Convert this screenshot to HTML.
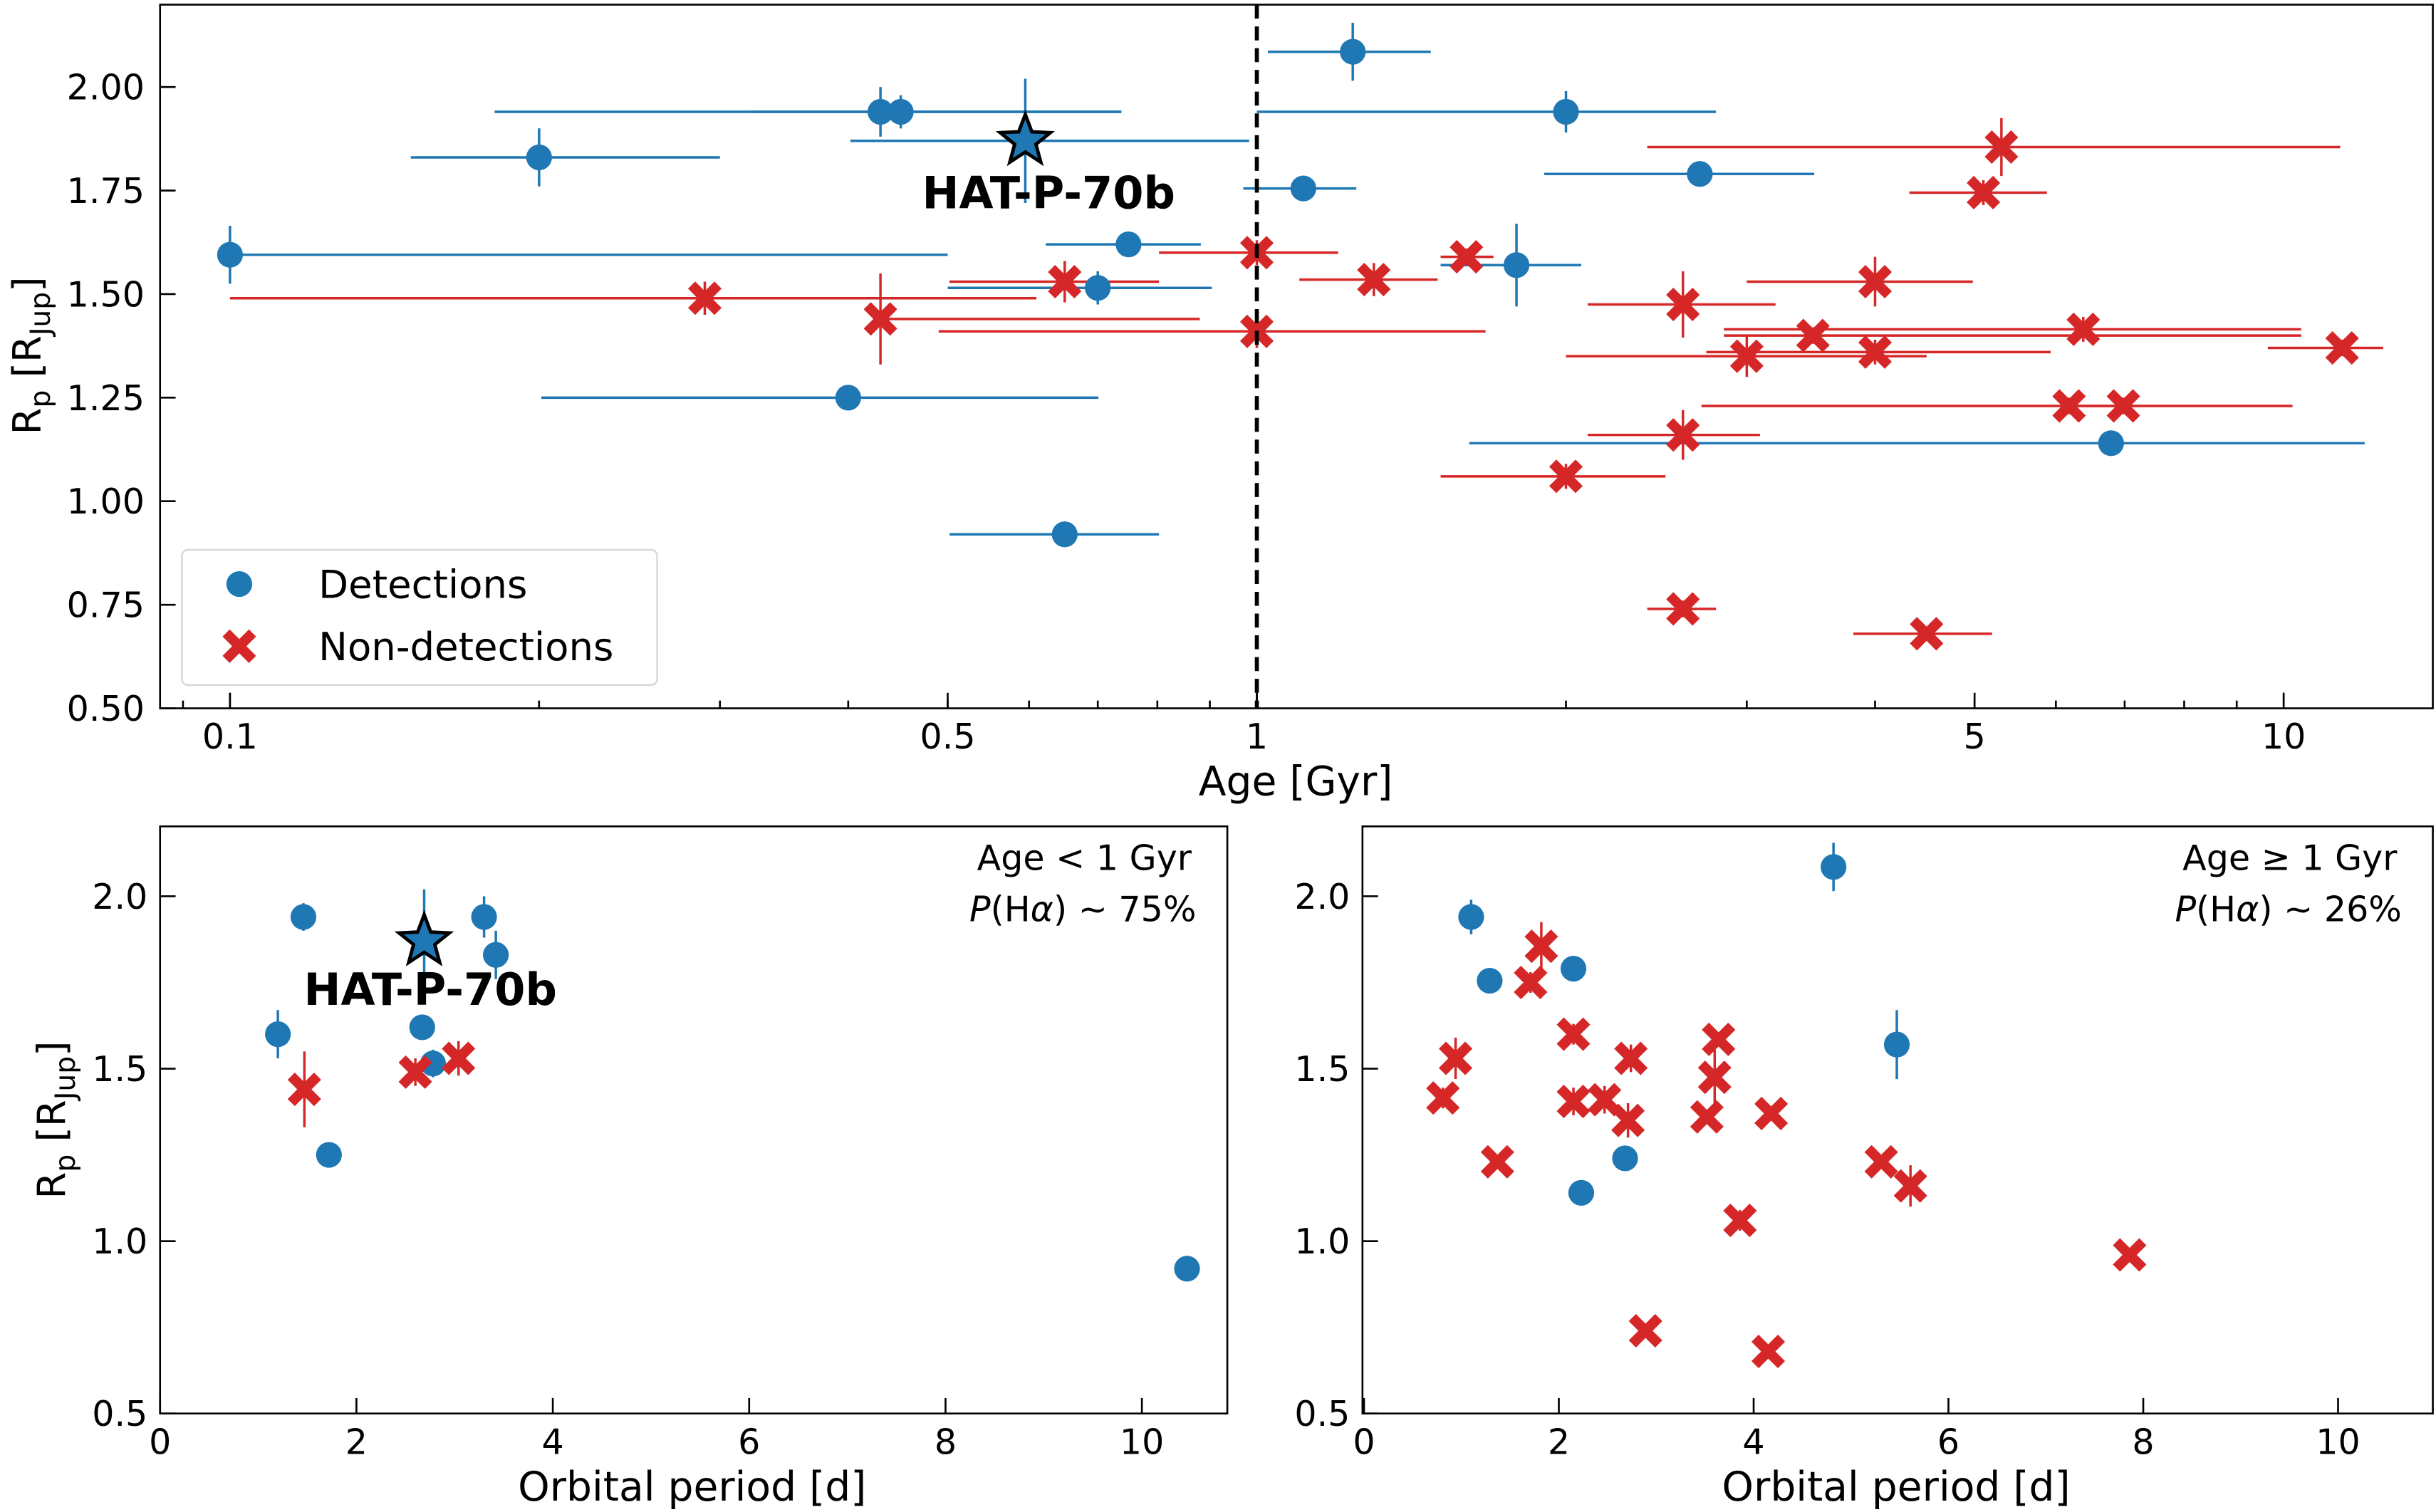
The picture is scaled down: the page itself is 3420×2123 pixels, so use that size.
<!DOCTYPE html>
<html><head><meta charset="utf-8">
<style>
html,body{margin:0;padding:0;background:#fff;}
svg{display:block;font-family:"DejaVu Sans","Liberation Sans",sans-serif;}
</style></head>
<body>
<svg id="fig" xmlns="http://www.w3.org/2000/svg" width="3420" height="2123" viewBox="0 0 1568 973.4">
<g id="top"></g>
<g id="bl"></g>
<g id="br"></g>
</svg>
<script>
// ---- Top panel data (age in Gyr, Rp in RJup) ----
const detAge   = [0.1, 0.2, 0.43, 0.45, 0.75, 0.70, 0.40, 0.65, 1.24, 2.0, 1.11, 2.70, 1.79, 6.79];
const detAgeLo = [0.1, 0.150, 0.181, 0.321, 0.623, 0.50, 0.201, 0.502, 1.025, 1.0, 0.97, 1.905, 1.51, 1.61];
const detAgeHi = [0.50, 0.30, 0.738, 0.738, 0.882, 0.904, 0.701, 0.803, 1.477, 2.80, 1.25, 3.49, 2.07, 11.99];
const detRp    = [1.595, 1.83, 1.94, 1.94, 1.62, 1.515, 1.25, 0.92, 2.085, 1.94, 1.755, 1.79, 1.57, 1.14];
const detRpErr = [0.07, 0.07, 0.06, 0.04, 0.03, 0.04, 0.02, 0.02, 0.07, 0.05, 0.03, 0.03, 0.1, 0.02];
const ndAge   = [0.29, 0.43, 0.65, 1.0, 1.0, 1.30, 1.60, 2.60, 3.0, 3.48, 4.0, 4.0, 5.10, 5.31, 6.38, 6.18, 6.98, 11.4, 2.60, 2.0, 2.60, 4.49];
const ndAgeLo = [0.1, 0.43, 0.502, 0.803, 0.49, 1.10, 1.51, 2.10, 2.0, 2.85, 3.0, 2.74, 4.32, 2.40, 2.85, 2.71, 6.18, 9.65, 2.10, 1.51, 2.40, 3.81];
const ndAgeHi = [0.61, 0.88, 0.803, 1.20, 1.67, 1.50, 1.70, 3.20, 4.49, 10.4, 4.98, 5.93, 5.88, 11.35, 10.4, 10.2, 7.25, 12.5, 3.09, 2.50, 2.80, 5.20];
const ndRp    = [1.49, 1.44, 1.53, 1.60, 1.41, 1.535, 1.59, 1.475, 1.35, 1.40, 1.53, 1.36, 1.745, 1.855, 1.415, 1.23, 1.23, 1.37, 1.16, 1.06, 0.74, 0.68];
const ndRpErr = [0.04, 0.11, 0.05, 0.03, 0.04, 0.04, 0.02, 0.08, 0.05, 0.02, 0.06, 0.03, 0.03, 0.07, 0.03, 0.02, 0.02, 0.02, 0.06, 0.03, 0.02, 0.01];
const starAge = 0.595, starAgeLo = 0.402, starAgeHi = 0.983, starRp = 1.87, starRpErr = 0.15;
const topXTicks = [0.1, 0.5, 1, 5, 10];
const topXTickLabels = ["0.1", "0.5", "1", "5", "10"];
const topYTicks = [0.5, 0.75, 1.0, 1.25, 1.5, 1.75, 2.0];
const topYTickLabels = ["0.50", "0.75", "1.00", "1.25", "1.50", "1.75", "2.00"];
// ---- Bottom-left (age < 1 Gyr) ----
const ylDetP  = [1.2, 1.46, 1.72, 2.67, 2.78, 3.3, 3.42, 10.46];
const ylDetRp = [1.60, 1.94, 1.25, 1.62, 1.515, 1.94, 1.83, 0.92];
const ylDetErr= [0.07, 0.04, 0.02, 0.03, 0.04, 0.06, 0.07, 0.02];
const ylNdP   = [1.47, 2.6, 3.04];
const ylNdRp  = [1.44, 1.49, 1.53];
const ylNdErr = [0.11, 0.04, 0.05];
const ylStarP = 2.69, ylStarRp = 1.87;
// ---- Bottom-right (age >= 1 Gyr) ----
const olDetP  = [1.1, 1.29, 2.15, 2.68, 2.23, 4.82, 5.47];
const olDetRp = [1.94, 1.755, 1.79, 1.24, 1.14, 2.085, 1.57];
const olDetErr= [0.05, 0.03, 0.03, 0.02, 0.02, 0.07, 0.1];
const olNdP   = [0.81, 0.94, 1.37, 1.71, 1.82, 2.15, 2.15, 2.47, 2.71, 2.74, 2.89, 3.52, 3.6, 3.64, 3.86, 4.18, 4.15, 5.31, 5.61, 7.86];
const olNdRp  = [1.415, 1.53, 1.23, 1.75, 1.855, 1.60, 1.405, 1.41, 1.35, 1.53, 0.74, 1.36, 1.475, 1.585, 1.06, 1.37, 0.68, 1.23, 1.16, 0.96];
const olNdErr = [0.03, 0.06, 0.02, 0.03, 0.07, 0.03, 0.04, 0.04, 0.05, 0.04, 0.02, 0.02, 0.08, 0.02, 0.03, 0.02, 0.01, 0.02, 0.06, 0.02];
const botXTicks = [0, 2, 4, 6, 8, 10];
const botYTicks = [0.5, 1.0, 1.5, 2.0];
const botYTickLabels = ["0.5", "1.0", "1.5", "2.0"];

const NS = "http://www.w3.org/2000/svg";
const BLUE = "#1f77b4", RED = "#d62728";
function mk(parent, tag, attrs, text) {
  const e = document.createElementNS(NS, tag);
  for (const k in attrs) e.setAttribute(k, attrs[k]);
  if (text !== undefined) e.textContent = text;
  parent.appendChild(e);
  return e;
}

const T = {x0: 103, x1: 1566, y0: 3, y1: 456};
const tx = v => 809 + 661 * Math.log10(v);
const ty = v => 456 - (v - 0.5) / 1.5 * 400;
const BL = {x0: 103, x1: 790, y0: 532, y1: 910};
const blx = v => 103 + 63.2 * v;
const by = v => 910 - (v - 0.5) / 0.5 * 111;
const BR = {x0: 877, x1: 1566, y0: 532, y1: 910};
const brx = v => 878 + 62.7 * v;

function circle(g, x, y, name) {
  const c = mk(g, "circle", {cx: x, cy: y, r: 8.3, fill: BLUE});
  
  
}
function cross(g, x, y, name) {
  const s = 8.5;
  const p = mk(g, "path", {d: `M${x-s},${y-s}L${x+s},${y+s}M${x-s},${y+s}L${x+s},${y-s}`, stroke: RED, "stroke-width": 6.5, "stroke-linecap": "butt"});
  
  
}
function star(g, x, y, name) {
  const R = 17, r = 7.2; let d = "";
  for (let i = 0; i < 10; i++) {
    const a = -Math.PI / 2 + i * Math.PI / 5, rr = i % 2 ? r : R;
    d += (i ? "L" : "M") + (x + rr * Math.cos(a)).toFixed(2) + "," + (y + rr * Math.sin(a)).toFixed(2);
  }
  const p = mk(g, "path", {d: d + "Z", fill: BLUE, stroke: "#000", "stroke-width": 2.2, "stroke-linejoin": "miter"});
  
  
}
function line(g, x1, y1, x2, y2, col, w, name) {
  const l = mk(g, "line", {x1, y1, x2, y2, stroke: col, "stroke-width": w});
  
  
  return l;
}
function frame(g, A, name) {
  const r = mk(g, "rect", {x: A.x0, y: A.y0, width: A.x1 - A.x0, height: A.y1 - A.y0, fill: "none", stroke: "#000", "stroke-width": 1.2});
  
  
}
function txt(g, x, y, s, size, anchor, name, extra) {
  const t = mk(g, "text", Object.assign({x, y, "font-size": size, "text-anchor": anchor || "middle"}, extra || {}), s);
  
  
  return t;
}
const YT = 'R<tspan font-size="18" dy="6">p</tspan><tspan dy="-6"> [R</tspan><tspan font-size="18" dy="6">Jup</tspan><tspan dy="-6">]</tspan>';

// ===== Top panel =====
const gt = document.getElementById("top");
for (let i = 0; i < detAge.length; i++) {
  line(gt, tx(detAgeLo[i]), ty(detRp[i]), tx(detAgeHi[i]), ty(detRp[i]), BLUE, 1.6, "detection-age-errorbar");
  line(gt, tx(detAge[i]), ty(detRp[i] - detRpErr[i]), tx(detAge[i]), ty(detRp[i] + detRpErr[i]), BLUE, 1.6, "detection-rp-errorbar");
}
for (let i = 0; i < ndAge.length; i++) {
  line(gt, tx(ndAgeLo[i]), ty(ndRp[i]), tx(ndAgeHi[i]), ty(ndRp[i]), RED, 1.6, "nondetection-age-errorbar");
  line(gt, tx(ndAge[i]), ty(ndRp[i] - ndRpErr[i]), tx(ndAge[i]), ty(ndRp[i] + ndRpErr[i]), RED, 1.6, "nondetection-rp-errorbar");
}
line(gt, tx(starAgeLo), ty(starRp), tx(starAgeHi), ty(starRp), BLUE, 1.6, "hat-p-70b-age-errorbar");
line(gt, tx(starAge), ty(starRp - starRpErr), tx(starAge), ty(starRp + starRpErr), BLUE, 1.6, "hat-p-70b-rp-errorbar");
for (let i = 0; i < detAge.length; i++) circle(gt, tx(detAge[i]), ty(detRp[i]), "detection-point");
for (let i = 0; i < ndAge.length; i++) cross(gt, tx(ndAge[i]), ty(ndRp[i]), "nondetection-point");
star(gt, tx(starAge), ty(starRp), "hat-p-70b-star");
txt(gt, 675, 134, "HAT-P-70b", 28.5, "middle", "hat-p-70b-label", {"font-weight": "bold"});
const dl = line(gt, tx(1), T.y0, tx(1), T.y1, "#000", 2.6, "age-1gyr-divider");
dl.setAttribute("stroke-dasharray", "9,5");
frame(gt, T, "age-panel-frame");
for (let dec = 0.01; dec <= 10; dec *= 10) {
  for (let m = 1; m <= 9; m++) {
    const v = m * dec, x = tx(v);
    if (x < T.x0 || x > T.x1) continue;
    line(gt, x, T.y1, x, T.y1 - (m === 1 ? 10 : 5), "#000", 1.2, "x-tick");
  }
}
for (let i = 0; i < topXTicks.length; i++) {
  const x = tx(topXTicks[i]);
  line(gt, x, T.y1, x, T.y1 - 10, "#000", 1.2, "x-tick");
  txt(gt, x, T.y1 + 26, topXTickLabels[i], 22.5, "middle", "x-tick-label");
}
for (let i = 0; i < topYTicks.length; i++) {
  const y = ty(topYTicks[i]);
  line(gt, T.x0, y, T.x0 + 10, y, "#000", 1.2, "y-tick");
  txt(gt, T.x0 - 10, y + 8, topYTickLabels[i], 22.5, "end", "y-tick-label");
}
txt(gt, 834, 512, "Age [Gyr]", 26, "middle", "x-axis-title");
{
  const t = txt(gt, 0, 0, "", 25, "middle", "y-axis-title", {transform: "translate(26,229) rotate(-90)"});
  t.innerHTML = YT;
}
{
  const lg = mk(gt, "g", {});
  
  
  const r = mk(lg, "rect", {x: 117, y: 354, width: 306, height: 87, rx: 4, fill: "#fff", stroke: "#d9d9d9", "stroke-width": 1.2});
  
  
  circle(lg, 154, 376, "legend-detections-marker");
  txt(lg, 205, 385, "Detections", 25, "start", "legend-detections-label");
  cross(lg, 154, 416, "legend-nondetections-marker");
  txt(lg, 205, 425, "Non-detections", 25, "start", "legend-nondetections-label");
}

// ===== Bottom panels =====
function bottom(g, A, xf, dP, dR, dE, nP, nR, nE, pre) {
  for (let i = 0; i < dP.length; i++) {
    line(g, xf(dP[i]), by(dR[i] - dE[i]), xf(dP[i]), by(dR[i] + dE[i]), BLUE, 1.6, pre + "detection-errorbar");
  }
  for (let i = 0; i < nP.length; i++) {
    line(g, xf(nP[i]), by(nR[i] - nE[i]), xf(nP[i]), by(nR[i] + nE[i]), RED, 1.6, pre + "nondetection-errorbar");
  }
  for (let i = 0; i < dP.length; i++) circle(g, xf(dP[i]), by(dR[i]), pre + "detection-point");
  for (let i = 0; i < nP.length; i++) cross(g, xf(nP[i]), by(nR[i]), pre + "nondetection-point");
  frame(g, A, pre + "frame");
  for (let i = 0; i < botXTicks.length; i++) {
    const x = xf(botXTicks[i]);
    line(g, x, A.y1, x, A.y1 - 10, "#000", 1.2, "x-tick");
    txt(g, x, A.y1 + 26, String(botXTicks[i]), 22.5, "middle", "x-tick-label");
  }
  for (let i = 0; i < botYTicks.length; i++) {
    const y = by(botYTicks[i]);
    line(g, A.x0, y, A.x0 + 10, y, "#000", 1.2, "y-tick");
    txt(g, A.x0 - 8, y + 8, botYTickLabels[i], 22.5, "end", "y-tick-label");
  }
  txt(g, (A.x0 + A.x1) / 2 - 1, 966, "Orbital period [d]", 26, "middle", "x-axis-title");
}
const gbl = document.getElementById("bl");
bottom(gbl, BL, blx, ylDetP, ylDetRp, ylDetErr, ylNdP, ylNdRp, ylNdErr, "young-");
line(gbl, blx(ylStarP), by(ylStarRp - 0.15), blx(ylStarP), by(ylStarRp + 0.15), BLUE, 1.6, "hat-p-70b-errorbar");
star(gbl, blx(ylStarP), by(ylStarRp), "hat-p-70b-star");
txt(gbl, 277, 647, "HAT-P-70b", 28.5, "middle", "hat-p-70b-label", {"font-weight": "bold"});
txt(gbl, 767, 560, "Age < 1 Gyr", 22.5, "end", "panel-annotation-age");
{
  const t = txt(gbl, 770, 593, "", 22.5, "end", "panel-annotation-probability");
  t.innerHTML = '<tspan font-style="italic">P</tspan>(H<tspan font-style="italic">α</tspan>) ~ 75%';
}
{
  const t = txt(gbl, 0, 0, "", 25, "middle", "y-axis-title", {transform: "translate(42,721) rotate(-90)"});
  t.innerHTML = YT;
}
const gbr = document.getElementById("br");
bottom(gbr, BR, brx, olDetP, olDetRp, olDetErr, olNdP, olNdRp, olNdErr, "old-");
txt(gbr, 1543, 560, "Age ≥ 1 Gyr", 22.5, "end", "panel-annotation-age");
{
  const t = txt(gbr, 1546, 593, "", 22.5, "end", "panel-annotation-probability");
  t.innerHTML = '<tspan font-style="italic">P</tspan>(H<tspan font-style="italic">α</tspan>) ~ 26%';
}
</script>
</body></html>
